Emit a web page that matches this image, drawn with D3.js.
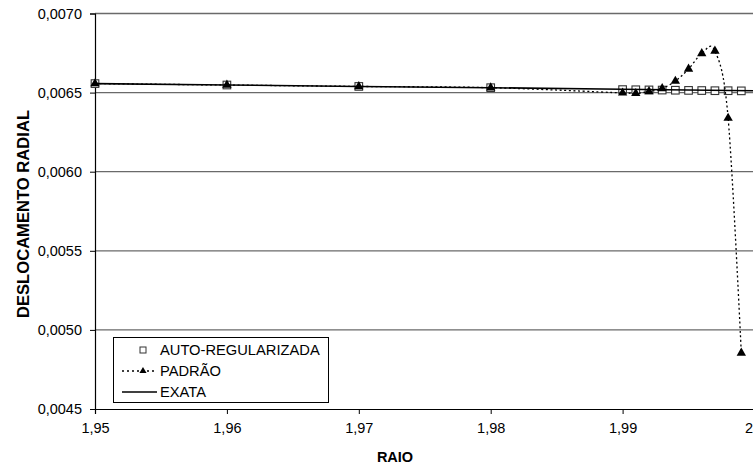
<!DOCTYPE html>
<html>
<head>
<meta charset="utf-8">
<script src="https://cdn.jsdelivr.net/npm/d3@7"></script>
<style>
  html, body { margin: 0; padding: 0; background: #fff; }
  svg { display: block; }
  text { font-family: "Liberation Sans", Arial, Helvetica, sans-serif; fill: #000; }
</style>
</head>
<body>
<svg id="chart" width="753" height="468"></svg>
<script>
// Radial displacement near the outer radius: self-regularized vs standard BEM vs exact
const radii = [1.95, 1.96, 1.97, 1.98, 1.990, 1.991, 1.992, 1.993, 1.994, 1.995, 1.996, 1.997, 1.998, 1.999];
const autoRegularizada = [0.006557, 0.006548, 0.006539, 0.006531, 0.006519, 0.006518, 0.006517, 0.006516, 0.006515, 0.006514, 0.006513, 0.006512, 0.006512, 0.006511];
const padrao = [0.006557, 0.006548, 0.006539, 0.006531, 0.006498, 0.006495, 0.006507, 0.006526, 0.006573, 0.006649, 0.006747, 0.006763, 0.006339, 0.004854];
const exataRadii = [1.95, 1.96, 1.97, 1.98, 1.99, 2.00];
const exata = [0.006557, 0.006548, 0.006539, 0.006531, 0.006521, 0.006512];

const xTicks = [1.95, 1.96, 1.97, 1.98, 1.99, 2.00];
const xTickLabels = ["1,95", "1,96", "1,97", "1,98", "1,99", "2"];
const yTicks = [0.0045, 0.0050, 0.0055, 0.0060, 0.0065, 0.0070];
const yTickLabels = ["0,0045", "0,0050", "0,0055", "0,0060", "0,0065", "0,0070"];
const seriesNames = ["AUTO-REGULARIZADA", "PADRÃO", "EXATA"];

const svg = d3.select("#chart");
const width = +svg.attr("width");
const plot = { left: 95, right: 754.5, top: 13.5, bottom: 409 };

const x = d3.scaleLinear().domain([1.95, 2.00]).range([plot.left, plot.right]);
const y = d3.scaleLinear().domain([0.0045, 0.0070]).range([plot.bottom, plot.top]);

// horizontal gridlines
svg.append("g")
  .selectAll("line")
  .data(yTicks.slice(1))
  .join("line")
  .attr("x1", plot.left).attr("x2", plot.right)
  .attr("y1", d => y(d)).attr("y2", d => y(d))
  .attr("stroke", "#6a6a6a")
  .attr("stroke-width", 1.3);

// axes
const xAxis = d3.axisBottom(x)
  .tickValues(xTicks)
  .tickFormat((d, i) => xTickLabels[i])
  .tickSize(5)
  .tickPadding(9);
const gx = svg.append("g")
  .attr("transform", `translate(0,${plot.bottom})`)
  .call(xAxis);
gx.select(".domain").attr("stroke", "#000").attr("stroke-width", 1.2);
gx.selectAll(".tick line").attr("stroke", "#000");
gx.selectAll("text").style("font-size", "14.5px").attr("fill", "#000");
// keep the last label inside the drawing area
gx.selectAll(".tick text")
  .filter(d => x(d) > width - 6)
  .attr("text-anchor", "end")
  .attr("x", d => width - 0.5 - x(d));

const yAxis = d3.axisLeft(y)
  .tickValues(yTicks)
  .tickFormat((d, i) => yTickLabels[i])
  .tickSize(5)
  .tickPadding(8);
const gy = svg.append("g")
  .attr("transform", `translate(${plot.left},0)`)
  .call(yAxis);
gy.select(".domain").attr("stroke", "#000").attr("stroke-width", 1.2);
gy.selectAll(".tick line").attr("stroke", "#000");
gy.selectAll("text").style("font-size", "14.5px").attr("fill", "#000");

// axis titles
svg.append("text")
  .attr("x", 395).attr("y", 462)
  .attr("text-anchor", "middle")
  .style("font-size", "14.5px").style("font-weight", "bold")
  .text("RAIO");
svg.append("text")
  .attr("transform", "translate(29,214) rotate(-90)")
  .attr("text-anchor", "middle")
  .style("font-size", "16.6px").style("font-weight", "bold")
  .text("DESLOCAMENTO RADIAL");

// series 1: open squares
svg.append("g")
  .selectAll("rect")
  .data(radii.map((r, i) => [r, autoRegularizada[i]]))
  .join("rect")
  .attr("x", d => x(d[0]) - 3.8).attr("y", d => y(d[1]) - 3.8)
  .attr("width", 7.6).attr("height", 7.6)
  .attr("fill", "#fff").attr("stroke", "#333").attr("stroke-width", 1.1);

// series 2: dotted smoothed line with filled triangles
const padraoPts = radii.map((r, i) => [r, padrao[i]]);
svg.append("path")
  .datum(padraoPts)
  .attr("fill", "none")
  .attr("stroke", "#000")
  .attr("stroke-width", 1.3)
  .attr("stroke-dasharray", "2,2.6")
  .attr("d", d3.line().x(d => x(d[0])).y(d => y(d[1])).curve(d3.curveCardinal.tension(0)));
const tri = d3.symbol().type(d3.symbolTriangle).size(38);
svg.append("g")
  .selectAll("path")
  .data(padraoPts)
  .join("path")
  .attr("transform", d => `translate(${x(d[0])},${y(d[1])})`)
  .attr("d", tri)
  .attr("fill", "#000");

// series 3: exact solution
svg.append("path")
  .datum(exataRadii.map((r, i) => [r, exata[i]]))
  .attr("fill", "none")
  .attr("stroke", "#000")
  .attr("stroke-width", 1.6)
  .attr("d", d3.line().x(d => x(d[0])).y(d => y(d[1])));

// legend
const lg = svg.append("g");
lg.append("rect")
  .attr("x", 113.5).attr("y", 337.5).attr("width", 215).attr("height", 65)
  .attr("fill", "#fff").attr("stroke", "#000").attr("stroke-width", 1);
const rowY = [350, 371, 392];
lg.append("rect")
  .attr("x", 140).attr("y", rowY[0] - 3).attr("width", 6).attr("height", 6)
  .attr("fill", "#fff").attr("stroke", "#333").attr("stroke-width", 1);
lg.append("line")
  .attr("x1", 122).attr("x2", 157).attr("y1", rowY[1]).attr("y2", rowY[1])
  .attr("stroke", "#000").attr("stroke-width", 1.3).attr("stroke-dasharray", "2,3");
lg.append("path")
  .attr("transform", `translate(143,${rowY[1]})`)
  .attr("d", d3.symbol().type(d3.symbolTriangle).size(22))
  .attr("fill", "#000");
lg.append("line")
  .attr("x1", 122).attr("x2", 157).attr("y1", rowY[2]).attr("y2", rowY[2])
  .attr("stroke", "#000").attr("stroke-width", 1.6);
lg.selectAll("text.item")
  .data(seriesNames)
  .join("text")
  .attr("class", "item")
  .attr("x", 160)
  .attr("y", (d, i) => rowY[i])
  .attr("dy", "0.36em")
  .style("font-size", "14.7px")
  .text(d => d);
</script>
</body>
</html>
